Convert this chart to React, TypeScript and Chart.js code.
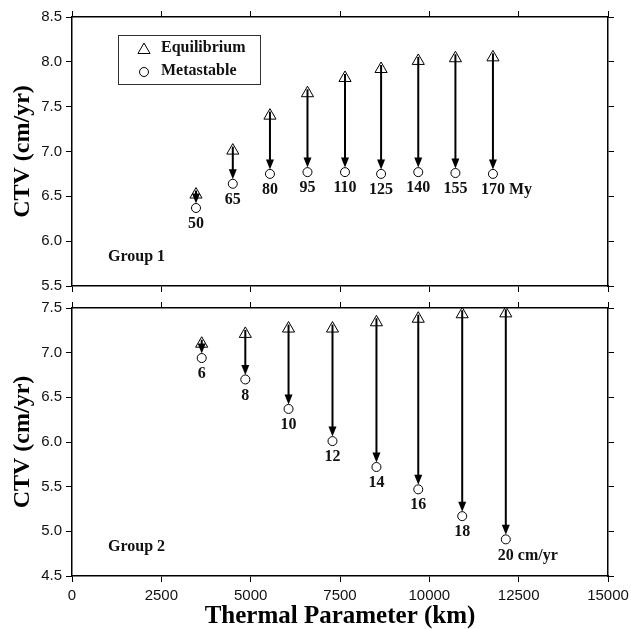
import { useEffect, useRef } from 'react';
import { Chart, registerables } from 'chart.js';

Chart.register(...registerables);

// ---- Data ----
const xTicksMax = 15000;
const group1Thermal = [3470, 4500, 5540, 6590, 7640, 8650, 9690, 10730, 11780];
const group1Equilibrium = [6.52, 7.01, 7.4, 7.65, 7.82, 7.92, 8.01, 8.04, 8.05];
const group1Metastable = [6.37, 6.64, 6.75, 6.77, 6.77, 6.75, 6.77, 6.76, 6.75];
const group1Labels = ['50', '65', '80', '95', '110', '125', '140', '155', '170'];
const group1Unit = 'My';

const group2Thermal = [3630, 4850, 6060, 7290, 8520, 9690, 10920, 12140];
const group2Equilibrium = [7.1, 7.21, 7.27, 7.27, 7.34, 7.38, 7.43, 7.44];
const group2Metastable = [6.94, 6.7, 6.37, 6.01, 5.72, 5.47, 5.17, 4.91];
const group2Labels = ['6', '8', '10', '12', '14', '16', '18', '20'];
const group2Unit = 'cm/yr';

const SERIF = '"Liberation Serif", "Times New Roman", serif';
const SANS = '"Liberation Sans", Arial, sans-serif';

type PanelSpec = {
  thermal: number[];
  eq: number[];
  meta: number[];
  labels: string[];
  unit: string;
  groupName: string;
  yMin: number;
  yMax: number;
  showXLabels: boolean;
  showLegend: boolean;
  topH: number;
  bottomH: number;
};

function drawTri(ctx: CanvasRenderingContext2D, x: number, y: number, r: number) {
  ctx.beginPath();
  ctx.moveTo(x, y - r);
  ctx.lineTo(x + r * Math.sin((2 * Math.PI) / 3), y - r * Math.cos((2 * Math.PI) / 3));
  ctx.lineTo(x + r * Math.sin((4 * Math.PI) / 3), y - r * Math.cos((4 * Math.PI) / 3));
  ctx.closePath();
  ctx.stroke();
}

function noPad(s: any) {
  s.paddingLeft = 0;
  s.paddingRight = 0;
  s.paddingTop = 0;
  s.paddingBottom = 0;
}

function makeConfig(spec: PanelSpec): any {
  const grid = {
    display: true,
    drawOnChartArea: false,
    drawTicks: true,
    tickLength: 6,
    color: '#000',
    lineWidth: 1,
  };
  const border = { display: true, color: '#000', width: 1.5 };

  const overlay = {
    id: 'overlay',
    afterDatasetsDraw(chart: any) {
      const ctx: CanvasRenderingContext2D = chart.ctx;
      const xs = chart.scales.x;
      const ys = chart.scales.y;
      ctx.save();
      for (let i = 0; i < spec.thermal.length; i++) {
        const px = xs.getPixelForValue(spec.thermal[i]);
        const y1 = ys.getPixelForValue(spec.eq[i]);
        const y2 = ys.getPixelForValue(spec.meta[i]);
        const tip = y2 - 4.5;
        const headH = 10;
        const base = tip - headH;
        ctx.strokeStyle = '#000';
        ctx.fillStyle = '#000';
        ctx.lineWidth = 2;
        ctx.beginPath();
        ctx.moveTo(px, y1 - 4);
        ctx.lineTo(px, base + 1);
        ctx.stroke();
        ctx.beginPath();
        ctx.moveTo(px, tip);
        ctx.lineTo(px - 4, base);
        ctx.lineTo(px + 4, base);
        ctx.closePath();
        ctx.fill();
        ctx.font = `bold 16px ${SERIF}`;
        ctx.textAlign = 'center';
        ctx.textBaseline = 'middle';
        ctx.fillStyle = '#111';
        const ly = y2 + 16;
        ctx.fillText(spec.labels[i], px, ly);
        if (i === spec.thermal.length - 1) {
          const w = ctx.measureText(spec.labels[i]).width;
          ctx.textAlign = 'left';
          ctx.fillText(spec.unit, px + w / 2 + 4, ly);
        }
      }
      ctx.font = `bold 16px ${SERIF}`;
      ctx.textAlign = 'left';
      ctx.textBaseline = 'middle';
      ctx.fillStyle = '#111';
      const ca = chart.chartArea;
      ctx.fillText(spec.groupName, ca.left + 36, ca.bottom - 29);

      if (spec.showLegend) {
        const lx = ca.left + 46;
        const ly = ca.top + 18;
        ctx.strokeStyle = '#333';
        ctx.lineWidth = 1;
        ctx.strokeRect(lx + 0.5, ly + 0.5, 142, 49);
        ctx.strokeStyle = '#000';
        ctx.lineWidth = 1;
        drawTri(ctx, lx + 26, ly + 15, 7);
        ctx.beginPath();
        ctx.arc(lx + 26, ly + 37, 4.5, 0, Math.PI * 2);
        ctx.stroke();
        ctx.fillStyle = '#111';
        ctx.font = `bold 16px ${SERIF}`;
        ctx.fillText('Equilibrium', lx + 43, ly + 13);
        ctx.fillText('Metastable', lx + 43, ly + 36);
      }
      ctx.restore();
    },
  };

  const yTickCb = (v: any) => Number(v).toFixed(1);
  const xTickCb = (v: any) => String(v);

  return {
    type: 'scatter',
    data: {
      datasets: [
        {
          label: 'Equilibrium',
          data: spec.thermal.map((x, i) => ({ x, y: spec.eq[i] })),
          pointStyle: 'triangle',
          pointRadius: 7,
          pointBorderColor: '#000',
          pointBackgroundColor: 'rgba(0,0,0,0)',
          pointBorderWidth: 1,
          xAxisID: 'x',
          yAxisID: 'y',
        },
        {
          label: 'Metastable',
          data: spec.thermal.map((x, i) => ({ x, y: spec.meta[i] })),
          pointStyle: 'circle',
          pointRadius: 4.5,
          pointBorderColor: '#000',
          pointBackgroundColor: 'rgba(0,0,0,0)',
          pointBorderWidth: 1,
          xAxisID: 'x',
          yAxisID: 'y',
        },
      ],
    },
    options: {
      responsive: false,
      animation: false,
      devicePixelRatio: 1,
      layout: { padding: 0 },
      plugins: { legend: { display: false }, tooltip: { enabled: false } },
      scales: {
        x: {
          type: 'linear',
          position: 'bottom',
          min: 0,
          max: xTicksMax,
          grid,
          border,
          ticks: {
            display: spec.showXLabels,
            stepSize: 2500,
            callback: xTickCb,
            font: { family: SANS, size: 15 },
            color: '#111',
            padding: 5,
            maxRotation: 0,
          },
          title: {
            display: spec.showXLabels,
            text: 'Thermal Parameter (km)',
            font: { family: SERIF, size: 25, weight: 'bold', lineHeight: 1 },
            color: '#000',
            padding: { top: 0, bottom: 0 },
          },
          afterFit: (s: any) => {
            s.height = spec.bottomH;
            noPad(s);
          },
        },
        xt: {
          type: 'linear',
          position: 'top',
          min: 0,
          max: xTicksMax,
          grid,
          border,
          ticks: { display: false, stepSize: 2500 },
          afterFit: (s: any) => {
            s.height = spec.topH;
            noPad(s);
          },
        },
        y: {
          type: 'linear',
          position: 'left',
          min: spec.yMin,
          max: spec.yMax,
          grid,
          border,
          ticks: {
            stepSize: 0.5,
            callback: yTickCb,
            font: { family: SANS, size: 15 },
            color: '#111',
            padding: 4,
          },
          title: {
            display: true,
            text: 'CTV (cm/yr)',
            font: { family: SERIF, size: 24, weight: 'bold' },
            color: '#000',
            padding: { top: 8, bottom: 0 },
          },
          afterFit: (s: any) => {
            s.width = 72;
            noPad(s);
          },
        },
        yr: {
          type: 'linear',
          position: 'right',
          min: spec.yMin,
          max: spec.yMax,
          grid,
          border,
          ticks: { display: false, stepSize: 0.5 },
          afterFit: (s: any) => {
            s.width = 23;
            noPad(s);
          },
        },
      },
    },
    plugins: [overlay],
  };
}

function Panel({ spec, top, height }: { spec: PanelSpec; top: number; height: number }) {
  const ref = useRef<HTMLCanvasElement | null>(null);
  useEffect(() => {
    if (!ref.current) return;
    const chart = new Chart(ref.current, makeConfig(spec));
    return () => chart.destroy();
  }, []);
  return (
    <canvas
      ref={ref}
      width={631}
      height={height}
      style={{ position: 'absolute', left: 0, top, width: 631, height }}
    />
  );
}

const topSpec: PanelSpec = {
  thermal: group1Thermal,
  eq: group1Equilibrium,
  meta: group1Metastable,
  labels: group1Labels,
  unit: group1Unit,
  groupName: 'Group 1',
  yMin: 5.5,
  yMax: 8.5,
  showXLabels: false,
  showLegend: true,
  topH: 17,
  bottomH: 14,
};

const bottomSpec: PanelSpec = {
  thermal: group2Thermal,
  eq: group2Equilibrium,
  meta: group2Metastable,
  labels: group2Labels,
  unit: group2Unit,
  groupName: 'Group 2',
  yMin: 4.5,
  yMax: 7.5,
  showXLabels: true,
  showLegend: false,
  topH: 18,
  bottomH: 53,
};

export default function App() {
  return (
    <div
      style={{
        position: 'absolute',
        left: 0,
        top: 0,
        width: 631,
        height: 629,
        background: '#fff',
        overflow: 'hidden',
      }}
    >
      <Panel spec={topSpec} top={0} height={300} />
      <Panel spec={bottomSpec} top={290} height={339} />
    </div>
  );
}
